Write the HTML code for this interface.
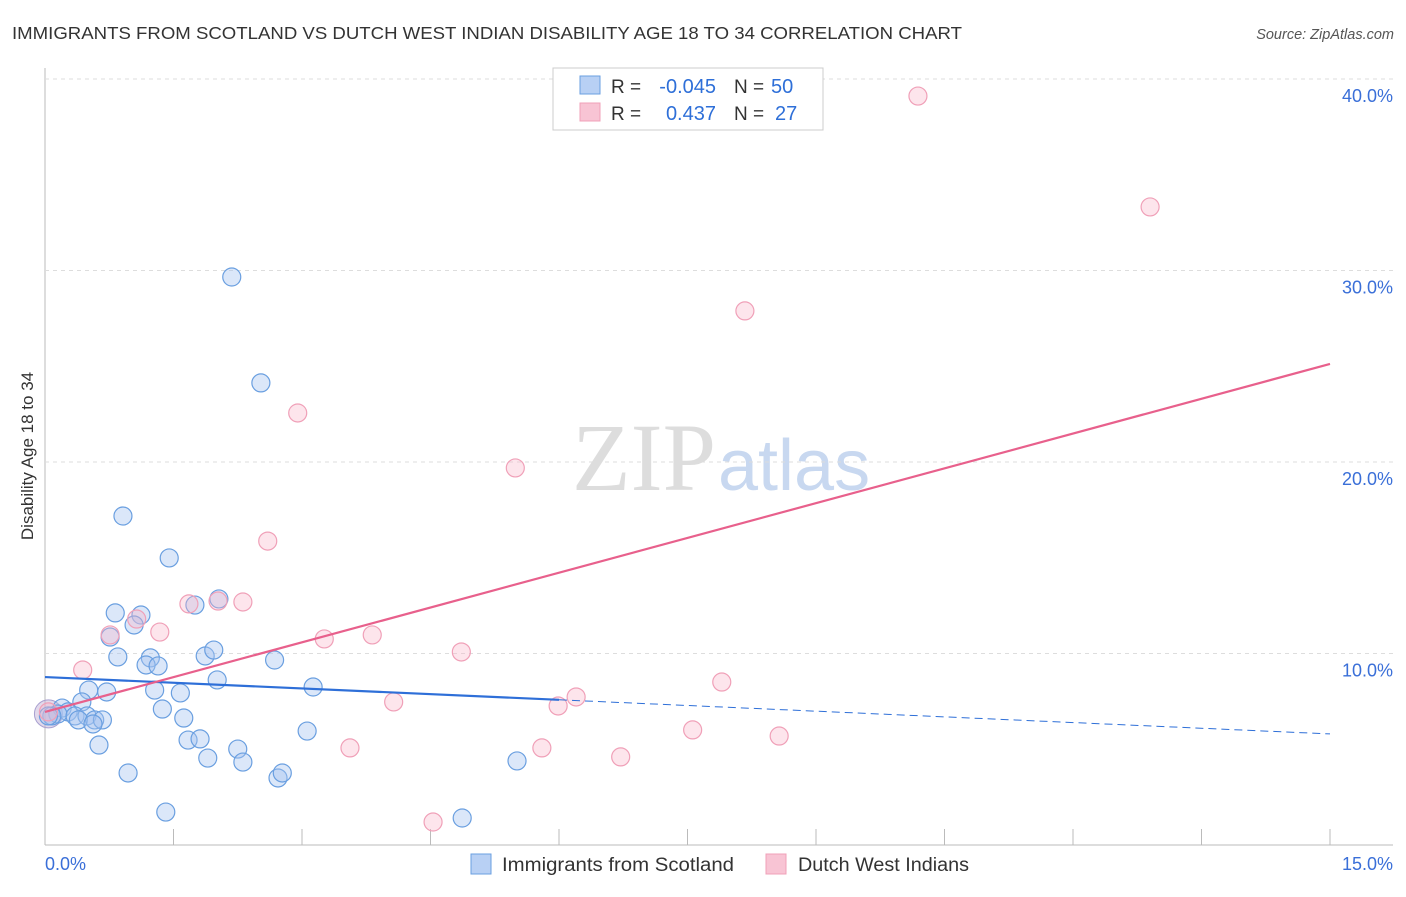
<!DOCTYPE html>
<html><head><meta charset="utf-8"><style>
body{margin:0;background:#fff;font-family:"Liberation Sans",sans-serif;}
</style></head><body>
<svg id="c" width="1406" height="892" xmlns="http://www.w3.org/2000/svg">
<text x="12" y="39" font-size="17.5" fill="#333" textLength="950" lengthAdjust="spacingAndGlyphs">IMMIGRANTS FROM SCOTLAND VS DUTCH WEST INDIAN DISABILITY AGE 18 TO 34 CORRELATION CHART</text>
<text x="1394" y="39" font-size="14.5" fill="#555" font-style="italic" text-anchor="end">Source: ZipAtlas.com</text>
<text x="716" y="490" font-size="96" fill="#ddd" text-anchor="end" font-family="Liberation Serif,serif">ZIP</text>
<text x="718" y="490" font-size="72" fill="#c8d8f0">atlas</text>
<text transform="translate(33,456) rotate(-90)" font-size="17" fill="#333" text-anchor="middle">Disability Age 18 to 34</text>
<g id="grid"></g><g id="marks"></g><g id="lines"></g>
<g>
<rect x="553" y="68" width="270" height="62" fill="#fff" stroke="#ccc"/>
<rect x="580" y="76" width="20" height="18" fill="#b8d0f4" stroke="#6a9fe0"/>
<rect x="580" y="103" width="20" height="18" fill="#f8c4d4" stroke="#f0a0b8"/>
<text x="611" y="93" font-size="19" fill="#333">R =</text>
<text x="716" y="93" font-size="20" fill="#2e6fd8" text-anchor="end">-0.045</text>
<text x="734" y="93" font-size="19" fill="#333">N =</text>
<text x="771" y="93" font-size="20" fill="#2e6fd8">50</text>
<text x="611" y="120" font-size="19" fill="#333">R =</text>
<text x="716" y="120" font-size="20" fill="#2e6fd8" text-anchor="end">0.437</text>
<text x="734" y="120" font-size="19" fill="#333">N =</text>
<text x="775" y="120" font-size="20" fill="#2e6fd8">27</text>
</g>
<g>
<rect x="471" y="854" width="20" height="20" fill="#b8d0f4" stroke="#6a9fe0"/>
<text x="502" y="871" font-size="19" fill="#333" textLength="232" lengthAdjust="spacingAndGlyphs">Immigrants from Scotland</text>
<rect x="766" y="854" width="20" height="20" fill="#f8c4d4" stroke="#f0a0b8"/>
<text x="798" y="871" font-size="19" fill="#333" textLength="171" lengthAdjust="spacingAndGlyphs">Dutch West Indians</text>
</g>
</svg>
<script>
const blueX=[0.91,1.45,2.18,2.52,0.82,1.12,1.04,0.76,0.85,1.23,1.18,1.32,0.51,0.72,1.28,1.58,0.43,0.20,0.27,0.15,0.08,0.35,0.49,0.39,0.58,0.67,0.56,1.37,1.62,0.63,0.97,1.41,1.87,1.97,2.01,1.75,2.03,2.68,3.13,3.06,1.67,1.81,2.25,2.31,1.90,2.72,2.77,4.87,5.51,0.04];
const blueY=[17.18,14.99,29.66,24.13,12.12,12.01,11.49,10.86,9.82,9.77,9.40,9.35,8.09,7.99,8.09,7.94,7.47,7.15,6.95,6.84,6.74,6.74,6.74,6.53,6.53,6.53,6.32,7.10,6.63,5.22,3.76,1.72,9.87,10.18,8.62,12.53,12.85,9.66,8.25,5.95,5.48,5.54,5.01,4.33,4.54,3.50,3.76,1.41,4.39,6.74];
const pinkX=[10.19,12.90,8.17,2.95,5.49,2.60,1.68,2.02,2.31,1.07,0.76,1.34,0.44,3.26,3.82,4.86,4.07,3.56,4.53,5.80,5.99,6.20,6.72,7.56,7.90,8.57,0.04];
const pinkY=[39.11,33.32,27.89,22.56,19.69,15.87,12.59,12.74,12.69,11.80,10.97,11.12,9.14,10.76,10.97,10.08,7.47,5.07,1.20,5.07,7.26,7.73,4.60,6.01,8.51,5.69,6.95];
const yTicks=[10,20,30,40];
const yTickLabels=["10.0%","20.0%","30.0%","40.0%"];
const xTicks=[0,1.5,3,4.5,6,7.5,9,10.5,12,13.5,15];
const blueTrend=[8.77,5.80];
const pinkTrend=[6.95,25.12];
const blueSolidEnd=6.0;
const X=v=>45+v*(1285/15);
const Y=v=>845-v*19.15;
const NS="http://www.w3.org/2000/svg";
function mk(tag,attrs,parent){const e=document.createElementNS(NS,tag);for(const k in attrs)e.setAttribute(k,attrs[k]);document.getElementById(parent).appendChild(e);return e;}
let e;
e=mk('line',{x1:45,y1:68,x2:45,y2:845,stroke:'#bbb'},'grid');


e=mk('line',{x1:45,y1:845,x2:1393,y2:845,stroke:'#bbb'},'grid');


yTicks.forEach((t,i)=>{
 e=mk('line',{x1:45,y1:Y(t),x2:1393,y2:Y(t),stroke:'#ddd','stroke-dasharray':'4,4'},'grid');
 
 
 e=mk('text',{x:1393,y:Y(t)+23,'font-size':18,fill:'#3a6fd8','text-anchor':'end'},'grid');
 e.textContent=yTickLabels[i];
 
 
});
xTicks.forEach(t=>{
 e=mk('line',{x1:X(t),y1:829,x2:X(t),y2:845,stroke:'#bbb'},'grid');
 
 
});
e=mk('text',{x:45,y:870,'font-size':18,fill:'#3a6fd8'},'grid');e.textContent='0.0%';


e=mk('text',{x:1393,y:870,'font-size':18,fill:'#3a6fd8','text-anchor':'end'},'grid');e.textContent='15.0%';


e=mk('circle',{cx:X(0.04),cy:Y(6.85),r:14,fill:'rgba(190,170,210,0.45)',stroke:'#a8a0d0'},'marks');


blueX.forEach((v,i)=>{
 e=mk('circle',{cx:X(v),cy:Y(blueY[i]),r:9,fill:'rgba(164,196,240,0.4)',stroke:'#6a9fe0','stroke-width':1.2},'marks');
 
 
});
pinkX.forEach((v,i)=>{
 e=mk('circle',{cx:X(v),cy:Y(pinkY[i]),r:9,fill:'rgba(248,180,200,0.35)',stroke:'#f0a0b8','stroke-width':1.2},'marks');
 
 
});
const by=x=>blueTrend[0]+(blueTrend[1]-blueTrend[0])*x/15;
e=mk('line',{x1:X(0),y1:Y(by(0)),x2:X(blueSolidEnd),y2:Y(by(blueSolidEnd)),stroke:'#2e6fd8','stroke-width':2.2},'lines');


e=mk('line',{x1:X(blueSolidEnd),y1:Y(by(blueSolidEnd)),x2:X(15),y2:Y(by(15)),stroke:'#2e6fd8','stroke-width':1,'stroke-dasharray':'8,5'},'lines');


e=mk('line',{x1:X(0),y1:Y(pinkTrend[0]),x2:X(15),y2:Y(pinkTrend[1]),stroke:'#e8608c','stroke-width':2.2},'lines');


</script>
</body></html>
